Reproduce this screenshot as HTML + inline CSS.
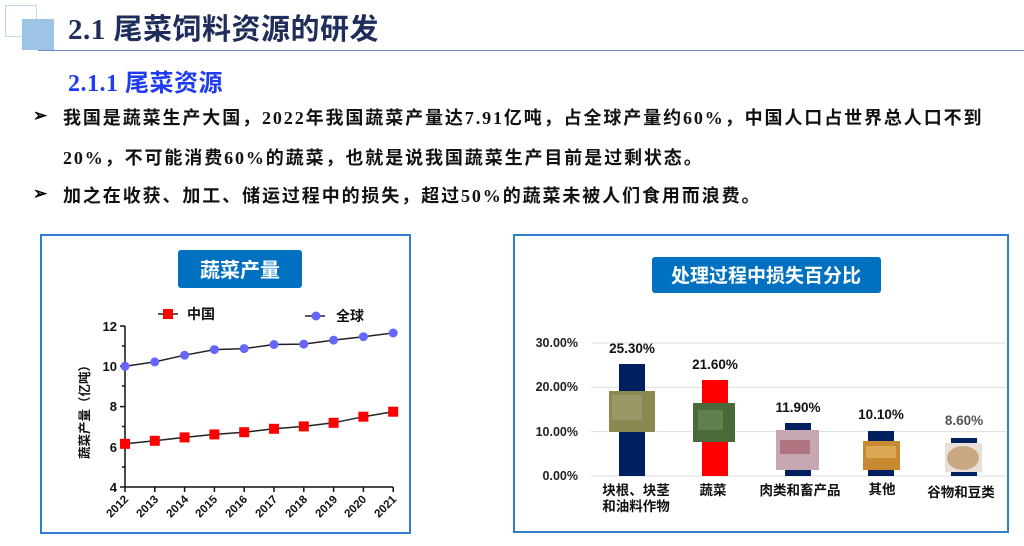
<!DOCTYPE html>
<html><head><meta charset="utf-8"><style>
body{margin:0;width:1024px;height:546px;overflow:hidden;background:#fff;position:relative;font-family:"Liberation Sans","Noto Sans CJK SC",sans-serif}
.t{position:absolute;white-space:nowrap;font-family:"Liberation Serif","Noto Sans CJK SC",serif;font-weight:bold}
.b{font-size:18px;color:#111;letter-spacing:1.9px}
</style></head><body>
<div style="position:absolute;left:5px;top:5px;width:30px;height:30px;border:1px solid #bdd7ee"></div>
<div style="position:absolute;left:22px;top:19px;width:32px;height:31px;background:#9dc3e6"></div>
<div style="position:absolute;left:38px;top:50px;width:986px;height:1px;background:#6f8cc0"></div>
<div class="t" style="left:68px;top:6px;font-size:29px;color:#1f2d5a;letter-spacing:0.5px">2.1 尾菜饲料资源的研发</div>
<div class="t" style="left:68px;top:63px;font-size:24px;color:#1f3cf0;letter-spacing:0.5px">2.1.1 尾菜资源</div>
<div class="t" style="left:33px;top:106px;font-size:17px;color:#000">➢</div>
<div class="t b" style="left:63px;top:104px">我国是蔬菜生产大国，2022年我国蔬菜产量达7.91亿吨，占全球产量约60%，中国人口占世界总人口不到</div>
<div class="t b" style="left:63px;top:144px">20%，不可能消费60%的蔬菜，也就是说我国蔬菜生产目前是过剩状态。</div>
<div class="t" style="left:33px;top:184px;font-size:17px;color:#000">➢</div>
<div class="t b" style="left:63px;top:182px">加之在收获、加工、储运过程中的损失，超过50%的蔬菜未被人们食用而浪费。</div>

<svg width="1024" height="546" style="position:absolute;left:0;top:0" font-family="Liberation Sans,Noto Sans CJK SC,sans-serif">
<rect x="41" y="235" width="369" height="298" fill="none" stroke="#2e7fd0" stroke-width="2"/>
<rect x="178" y="250" width="124" height="38" rx="3" fill="#0070c0"/>
<text x="240" y="277" fill="#fff" font-size="20" font-weight="bold" text-anchor="middle">蔬菜产量</text>
<g stroke="#111" stroke-width="1.5" fill="none">
<path d="M125 326V487H393"/>
<path d="M120 326h5M120 366.3h5M120 406.6h5M120 446.9h5M120 487h5M122 346h3M122 386h3M122 426.5h3M122 467h3"/>
<path d="M125 487v5M154.8 487v5M184.6 487v5M214.4 487v5M244.2 487v5M274 487v5M303.8 487v5M333.6 487v5M363.4 487v5M393.2 487v5"/>
</g>
<g font-size="13" font-weight="bold" fill="#111" text-anchor="end">
<text x="117" y="331">12</text><text x="117" y="371">10</text><text x="117" y="411">8</text><text x="117" y="452">6</text><text x="117" y="492">4</text>
</g>
<g font-size="11.5" font-weight="bold" fill="#111" text-anchor="end">
<text transform="translate(129,500) rotate(-45)">2012</text><text transform="translate(159,500) rotate(-45)">2013</text><text transform="translate(189,500) rotate(-45)">2014</text><text transform="translate(218,500) rotate(-45)">2015</text><text transform="translate(248,500) rotate(-45)">2016</text><text transform="translate(278,500) rotate(-45)">2017</text><text transform="translate(308,500) rotate(-45)">2018</text><text transform="translate(338,500) rotate(-45)">2019</text><text transform="translate(367,500) rotate(-45)">2020</text><text transform="translate(397,500) rotate(-45)">2021</text>
</g>
<text transform="translate(89,409) rotate(-90)" font-size="12.5" font-weight="bold" fill="#111" text-anchor="middle">蔬菜产量（亿吨）</text>
<polyline fill="none" stroke="#222" stroke-width="1.5" points="125,443.8 154.8,440.8 184.6,437.4 214.4,434.4 244.2,432.2 274,428.8 303.8,426.4 333.6,422.8 363.4,416.7 393.2,411.7"/>
<g fill="#f00">
<rect x="120" y="438.8" width="10" height="10"/><rect x="149.8" y="435.8" width="10" height="10"/><rect x="179.6" y="432.4" width="10" height="10"/><rect x="209.4" y="429.4" width="10" height="10"/><rect x="239.2" y="427.2" width="10" height="10"/><rect x="269" y="423.8" width="10" height="10"/><rect x="298.8" y="421.4" width="10" height="10"/><rect x="328.6" y="417.8" width="10" height="10"/><rect x="358.4" y="411.7" width="10" height="10"/><rect x="388.2" y="406.7" width="10" height="10"/>
</g>
<polyline fill="none" stroke="#222" stroke-width="1.5" points="125,366.3 154.8,361.9 184.6,355.2 214.4,349.6 244.2,348.6 274,344.5 303.8,344.1 333.6,340.1 363.4,336.7 393.2,333"/>
<g fill="#6666ff">
<circle cx="125" cy="366.3" r="4.5"/><circle cx="154.8" cy="361.9" r="4.5"/><circle cx="184.6" cy="355.2" r="4.5"/><circle cx="214.4" cy="349.6" r="4.5"/><circle cx="244.2" cy="348.6" r="4.5"/><circle cx="274" cy="344.5" r="4.5"/><circle cx="303.8" cy="344.1" r="4.5"/><circle cx="333.6" cy="340.1" r="4.5"/><circle cx="363.4" cy="336.7" r="4.5"/><circle cx="393.2" cy="333" r="4.5"/>
</g>
<path d="M158 314h20M305 316h20" stroke="#222" stroke-width="1.5"/>
<rect x="163" y="309" width="10" height="10" fill="#f00"/><circle cx="316" cy="316" r="4.5" fill="#6666ff"/>
<text x="187" y="319" font-size="14" font-weight="bold" fill="#111">中国</text>
<text x="336" y="321" font-size="14" font-weight="bold" fill="#111">全球</text>

<rect x="514" y="235" width="494" height="297" fill="none" stroke="#2e7fd0" stroke-width="2"/>
<rect x="652" y="257" width="229" height="36" rx="3" fill="#0070c0"/>
<text x="766" y="282" fill="#fff" font-size="19" font-weight="bold" text-anchor="middle">处理过程中损失百分比</text>
<g stroke="#ddd" stroke-width="1"><path d="M591 343H1006M591 387.3H1006M591 431.6H1006M591 476H1006"/></g>
<g font-size="12.5" font-weight="bold" fill="#222" text-anchor="end">
<text x="578" y="347">30.00%</text><text x="578" y="391">20.00%</text><text x="578" y="436">10.00%</text><text x="578" y="480">0.00%</text>
</g>
<rect x="619" y="364" width="26" height="112" fill="#002060"/>
<rect x="702" y="380" width="26" height="96" fill="#f00"/>
<rect x="785" y="423" width="26" height="53" fill="#002060"/>
<rect x="868" y="431" width="26" height="45" fill="#002060"/>
<rect x="951" y="438" width="26" height="38" fill="#002060"/>
<rect x="609" y="391" width="46" height="41" fill="#8a8a50"/><rect x="612" y="395" width="30" height="25" fill="#a0a070" opacity=".7"/>
<rect x="693" y="403" width="42" height="39" fill="#4a6a3a"/><rect x="698" y="410" width="25" height="20" fill="#6b8a55" opacity=".7"/>
<rect x="776" y="430" width="43" height="40" fill="#c8a8b0"/><rect x="780" y="440" width="30" height="14" fill="#a05060" opacity=".6"/>
<rect x="863" y="441" width="37" height="29" fill="#c88a30"/><rect x="866" y="446" width="30" height="12" fill="#e0b060" opacity=".8"/>
<rect x="945" y="443" width="37" height="29" fill="#e8e0d8"/><ellipse cx="963" cy="458" rx="16" ry="12" fill="#c8a882"/>
<g font-size="13.5" font-weight="bold" fill="#111" text-anchor="middle">
<text x="632" y="353">25.30%</text><text x="715" y="369">21.60%</text><text x="798" y="412">11.90%</text><text x="881" y="419">10.10%</text><text x="964" y="425" fill="#555">8.60%</text>
</g>
<g font-size="13.5" fill="#111" text-anchor="middle" font-weight="bold">
<text x="636" y="495">块根、块茎</text><text x="636" y="511">和油料作物</text>
<text x="713" y="495">蔬菜</text><text x="800" y="495">肉类和畜产品</text><text x="882" y="494">其他</text><text x="961" y="497">谷物和豆类</text>
</g>
</svg>
</body></html>
